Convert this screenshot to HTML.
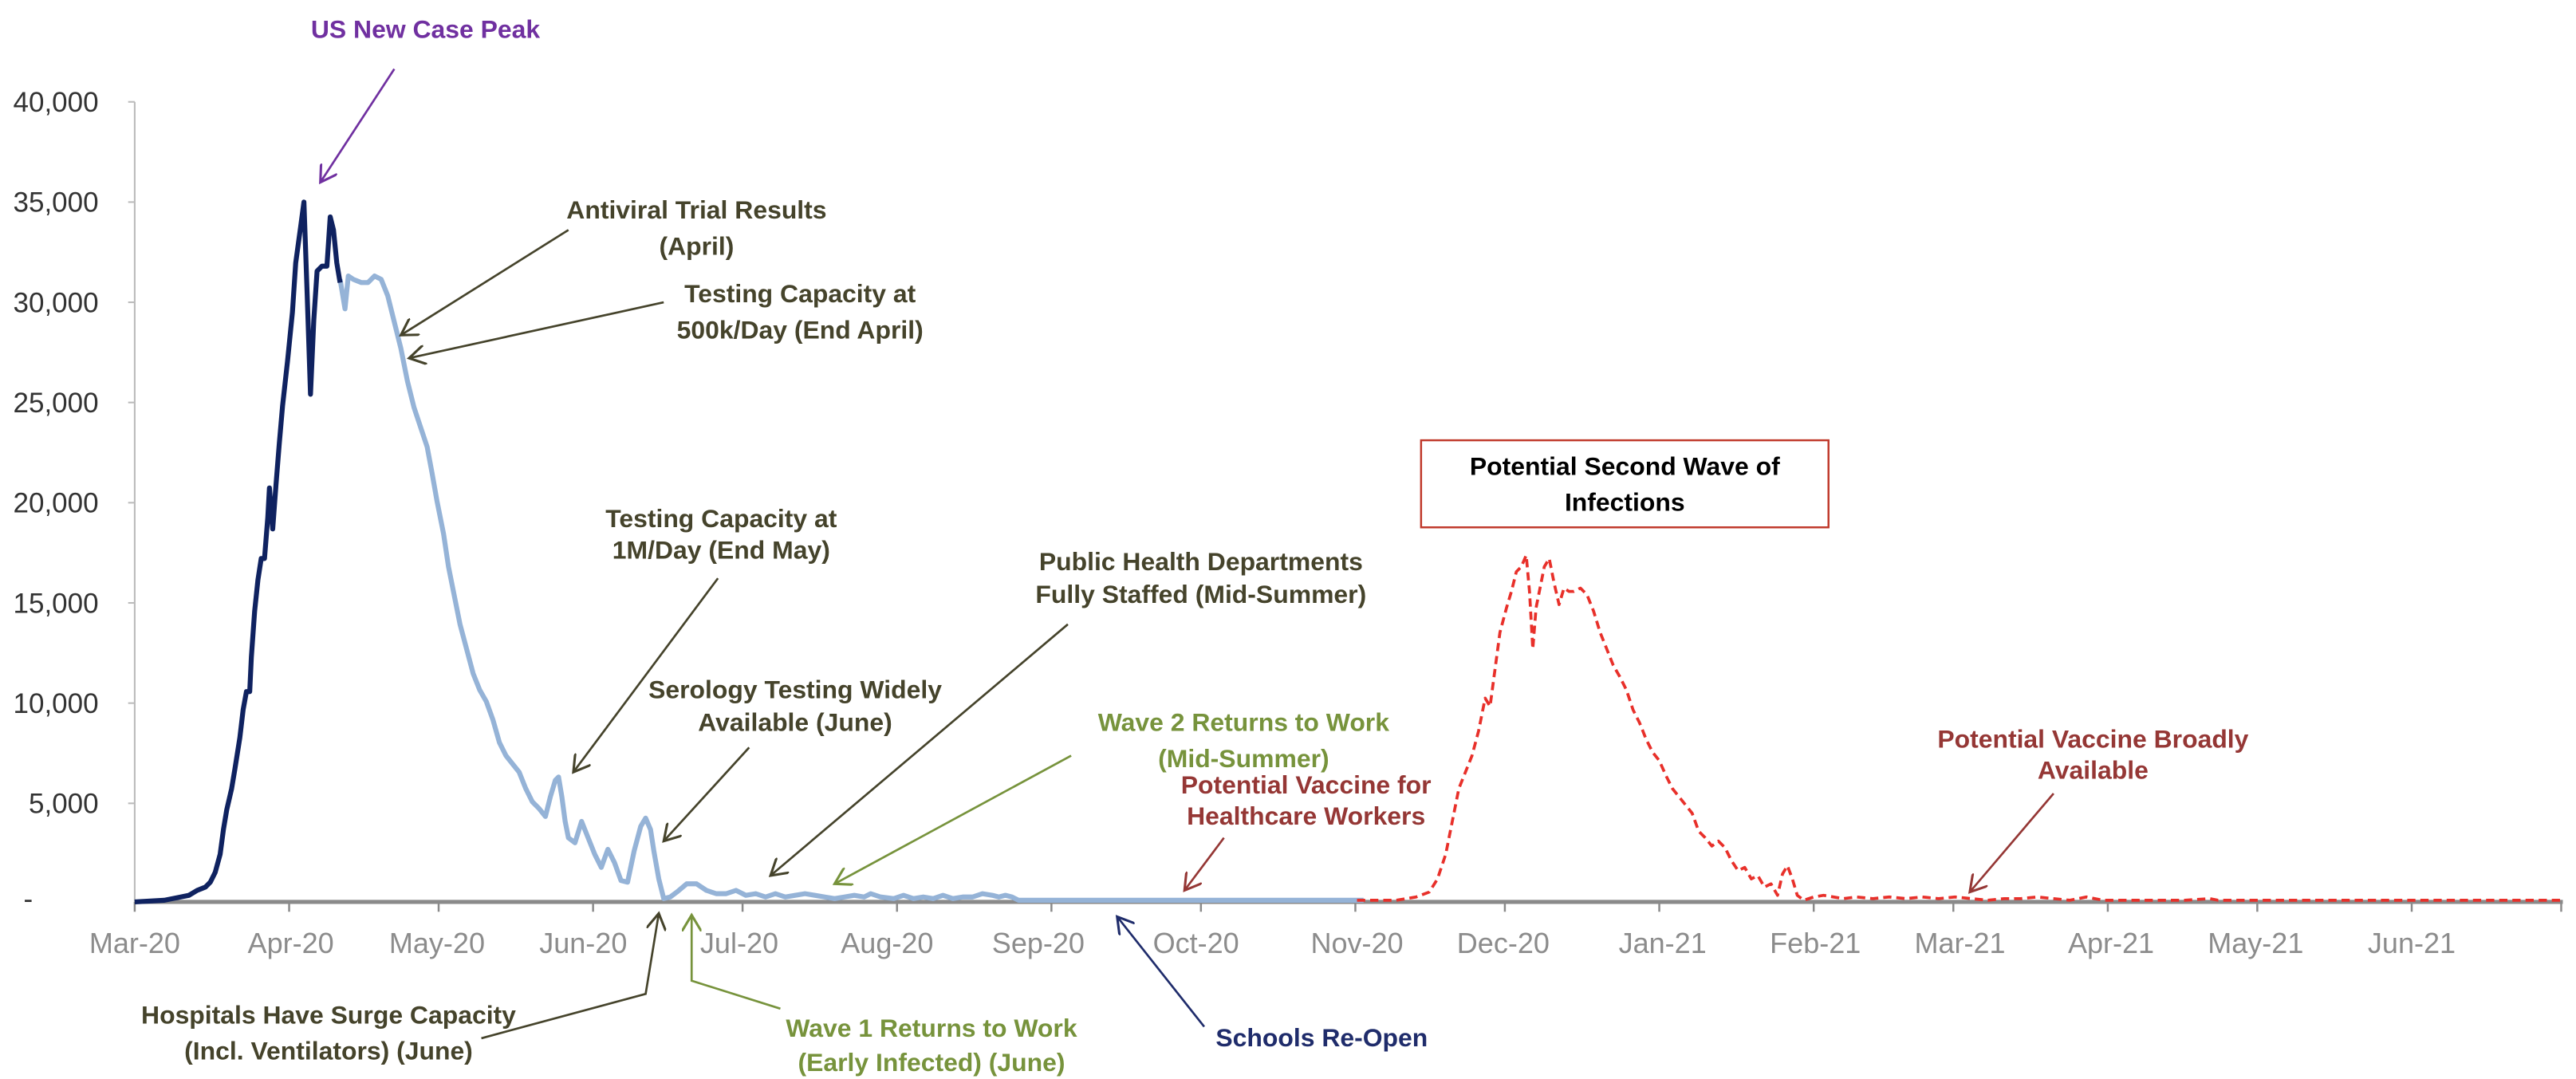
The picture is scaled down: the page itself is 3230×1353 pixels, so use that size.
<!DOCTYPE html>
<html><head><meta charset="utf-8"><style>
html,body{margin:0;padding:0;background:#fff;}
svg{display:block;}
text{font-family:"Liberation Sans",Arial,sans-serif;}
.b{font-weight:bold;font-size:15.5px;text-anchor:middle;}
.ol{fill:#45432b;} .gr{fill:#77933C;} .mr{fill:#953735;}
.yl{font-size:17px;fill:#333;text-anchor:end;}
.xl{font-size:17.5px;fill:#8c8c8c;text-anchor:middle;}
</style></head><body>
<svg width="3230" height="1353" viewBox="0 0 1568 656.8" xmlns="http://www.w3.org/2000/svg">
<defs>
<marker id="ao" markerWidth="12" markerHeight="12" refX="10" refY="6" orient="auto" markerUnits="userSpaceOnUse"><path d="M0,0 L10,6 L0,12" fill="none" stroke="#45432b" stroke-width="1.5"/></marker>
<marker id="ap" markerWidth="12" markerHeight="12" refX="10" refY="6" orient="auto" markerUnits="userSpaceOnUse"><path d="M0,0 L10,6 L0,12" fill="none" stroke="#7030A0" stroke-width="1.5"/></marker>
<marker id="ag" markerWidth="12" markerHeight="12" refX="10" refY="6" orient="auto" markerUnits="userSpaceOnUse"><path d="M0,0 L10,6 L0,12" fill="none" stroke="#77933C" stroke-width="1.5"/></marker>
<marker id="am" markerWidth="12" markerHeight="12" refX="10" refY="6" orient="auto" markerUnits="userSpaceOnUse"><path d="M0,0 L10,6 L0,12" fill="none" stroke="#953735" stroke-width="1.5"/></marker>
<marker id="an" markerWidth="12" markerHeight="12" refX="10" refY="6" orient="auto" markerUnits="userSpaceOnUse"><path d="M0,0 L10,6 L0,12" fill="none" stroke="#1F2C6B" stroke-width="1.5"/></marker>
</defs>
<line x1="82" y1="62" x2="82" y2="549" stroke="#bbb" stroke-width="1"/>
<g stroke="#bbb" stroke-width="1">
<line x1="78" y1="62" x2="82" y2="62"/><line x1="78" y1="123" x2="82" y2="123"/><line x1="78" y1="184" x2="82" y2="184"/><line x1="78" y1="245" x2="82" y2="245"/><line x1="78" y1="306" x2="82" y2="306"/><line x1="78" y1="367" x2="82" y2="367"/><line x1="78" y1="428" x2="82" y2="428"/><line x1="78" y1="489" x2="82" y2="489"/>
</g>
<line x1="82" y1="549" x2="1560" y2="549" stroke="#8a8a8a" stroke-width="2.5"/>
<g stroke="#8a8a8a" stroke-width="1.2">
<line x1="82" y1="549" x2="82" y2="555"/><line x1="176" y1="549" x2="176" y2="555"/><line x1="267" y1="549" x2="267" y2="555"/><line x1="361" y1="549" x2="361" y2="555"/><line x1="452" y1="549" x2="452" y2="555"/><line x1="546" y1="549" x2="546" y2="555"/><line x1="640" y1="549" x2="640" y2="555"/><line x1="731" y1="549" x2="731" y2="555"/><line x1="825" y1="549" x2="825" y2="555"/><line x1="916" y1="549" x2="916" y2="555"/><line x1="1010" y1="549" x2="1010" y2="555"/><line x1="1104" y1="549" x2="1104" y2="555"/><line x1="1189" y1="549" x2="1189" y2="555"/><line x1="1283" y1="549" x2="1283" y2="555"/><line x1="1374" y1="549" x2="1374" y2="555"/><line x1="1468" y1="549" x2="1468" y2="555"/><line x1="1559" y1="549" x2="1559" y2="555"/>
</g>
<g class="yl">
<text x="60" y="68">40,000</text><text x="60" y="129">35,000</text><text x="60" y="190">30,000</text><text x="60" y="251">25,000</text><text x="60" y="312">20,000</text><text x="60" y="373">15,000</text><text x="60" y="434">10,000</text><text x="60" y="495">5,000</text><text x="20" y="553">-</text>
</g>
<g class="xl">
<text x="82" y="580">Mar-20</text><text x="177" y="580">Apr-20</text><text x="266" y="580">May-20</text><text x="355" y="580">Jun-20</text><text x="450" y="580">Jul-20</text><text x="540" y="580">Aug-20</text><text x="632" y="580">Sep-20</text><text x="728" y="580">Oct-20</text><text x="826" y="580">Nov-20</text><text x="915" y="580">Dec-20</text><text x="1012" y="580">Jan-21</text><text x="1105" y="580">Feb-21</text><text x="1193" y="580">Mar-21</text><text x="1285" y="580">Apr-21</text><text x="1373" y="580">May-21</text><text x="1468" y="580">Jun-21</text>
</g>
<polyline fill="none" stroke="#95B3D7" stroke-width="3" stroke-linejoin="round" points="207,170 210,188 212,168 215,170 220,172 224,172 228,168 232,170 236,180 240,196 244,212 248,232 252,248 256,260 260,272 263,288 266,305 270,325 273,345 276,360 280,380 284,395 288,410 292,420 296,427 300,438 304,452 308,460 312,465 316,470 320,480 324,488 328,492 332,497 335,485 338,475 340,473 342,485 344,500 346,510 350,513 354,500 358,510 362,520 366,528 370,517 374,525 378,536 382,537 386,518 390,503 393,498 396,505 398,518 401,535 404,547 408,546 412,543 418,538 424,538 430,542 436,544 442,544 448,542 454,545 460,544 466,546 472,544 478,546 484,545 490,544 496,545 502,546 508,547 514,546 520,545 526,546 530,544 536,546 544,547 550,545 556,547 562,546 568,547 574,545 580,547 586,546 592,546 598,544 604,545 608,546 612,545 616,546 620,548 830,548"/>
<polyline fill="none" stroke="#0F2260" stroke-width="3" stroke-linejoin="round" points="82,549 100,548 110,546 115,545 120,542 125,540 128,537 131,531 134,520 136,505 138,493 141,480 143,468 146,449 148,432 150,421 152,421 153,400 155,372 157,353 159,340 161,340 163,315 164,297 166,322 168,295 170,270 172,247 175,220 178,190 180,160 183,138 185,123 187,180 189,240 191,195 193,165 196,162 199,162 201,132 203,140 205,160 207,172"/>
<polyline fill="none" stroke="#E8302A" stroke-width="1.8" stroke-dasharray="5,3" stroke-linejoin="round" points="826,548 850,548 862,546 870,543 875,535 880,520 884,500 888,480 892,470 896,460 900,445 904,425 907,430 909,415 913,385 917,370 920,360 923,348 926,345 929,338 931,360 933,395 935,370 937,360 940,345 943,340 946,355 949,368 952,358 955,360 958,360 962,358 966,362 970,372 974,385 978,395 982,405 986,412 990,420 994,432 998,440 1002,450 1006,458 1010,463 1014,472 1018,480 1022,485 1026,490 1030,495 1034,506 1038,510 1042,515 1046,512 1050,516 1054,524 1058,530 1062,528 1066,535 1070,533 1074,540 1078,538 1082,545 1085,532 1088,527 1091,535 1094,545 1098,548 1104,546 1110,545 1116,546 1122,547 1130,546 1140,547 1150,546 1160,547 1170,546 1180,547 1190,546 1200,547 1210,548 1220,547 1230,547 1240,546 1250,547 1260,548 1270,546 1280,548 1300,548 1330,548 1345,547 1350,548 1560,548"/>
<text x="259" y="23" class="b" fill="#7030A0">US New Case Peak</text>
<line x1="240" y1="42" x2="195" y2="111" stroke="#7030A0" stroke-width="1.3" marker-end="url(#ap)"/>
<text class="b ol" x="424" y="133">Antiviral Trial Results</text><text class="b ol" x="424" y="155">(April)</text>
<line x1="346" y1="140" x2="244" y2="204" stroke="#45432b" stroke-width="1.3" marker-end="url(#ao)"/>
<text class="b ol" x="487" y="184">Testing Capacity at</text><text class="b ol" x="487" y="206">500k/Day (End April)</text>
<line x1="404" y1="184" x2="249" y2="218" stroke="#45432b" stroke-width="1.3" marker-end="url(#ao)"/>
<text class="b ol" x="439" y="321">Testing Capacity at</text><text class="b ol" x="439" y="340">1M/Day (End May)</text>
<line x1="437" y1="352" x2="349" y2="470" stroke="#45432b" stroke-width="1.3" marker-end="url(#ao)"/>
<text class="b ol" x="484" y="425">Serology Testing Widely</text><text class="b ol" x="484" y="445">Available (June)</text>
<line x1="456" y1="455" x2="404" y2="512" stroke="#45432b" stroke-width="1.3" marker-end="url(#ao)"/>
<text class="b ol" x="731" y="347">Public Health Departments</text><text class="b ol" x="731" y="367">Fully Staffed (Mid-Summer)</text>
<line x1="650" y1="380" x2="469" y2="533" stroke="#45432b" stroke-width="1.3" marker-end="url(#ao)"/>
<text class="b gr" x="757" y="445">Wave 2 Returns to Work</text><text class="b gr" x="757" y="467">(Mid-Summer)</text>
<line x1="652" y1="460" x2="508" y2="538" stroke="#77933C" stroke-width="1.3" marker-end="url(#ag)"/>
<text class="b mr" x="795" y="483">Potential Vaccine for</text><text class="b mr" x="795" y="502">Healthcare Workers</text>
<line x1="745" y1="510" x2="721" y2="542" stroke="#953735" stroke-width="1.3" marker-end="url(#am)"/>
<rect x="865" y="268" width="248" height="53" fill="#fff" stroke="#c0392b" stroke-width="1.2"/>
<text class="b" x="989" y="289" fill="#000">Potential Second Wave of</text><text class="b" x="989" y="311" fill="#000">Infections</text>
<text class="b mr" x="1274" y="455">Potential Vaccine Broadly</text><text class="b mr" x="1274" y="474">Available</text>
<line x1="1250" y1="483" x2="1199" y2="543" stroke="#953735" stroke-width="1.3" marker-end="url(#am)"/>
<text class="b ol" x="200" y="623">Hospitals Have Surge Capacity</text><text class="b ol" x="200" y="645">(Incl. Ventilators) (June)</text>
<polyline fill="none" points="293,632 393,605 401,556" stroke="#45432b" stroke-width="1.3" marker-end="url(#ao)"/>
<text class="b gr" x="567" y="631">Wave 1 Returns to Work</text><text class="b gr" x="567" y="652">(Early Infected) (June)</text>
<polyline fill="none" points="475,614 421,597 421,557" stroke="#77933C" stroke-width="1.3" marker-end="url(#ag)"/>
<text class="b" x="740" y="637" fill="#1F2C6B" style="text-anchor:start">Schools Re-Open</text>
<line x1="733" y1="625" x2="680" y2="558" stroke="#1F2C6B" stroke-width="1.3" marker-end="url(#an)"/>
</svg>
</body></html>
